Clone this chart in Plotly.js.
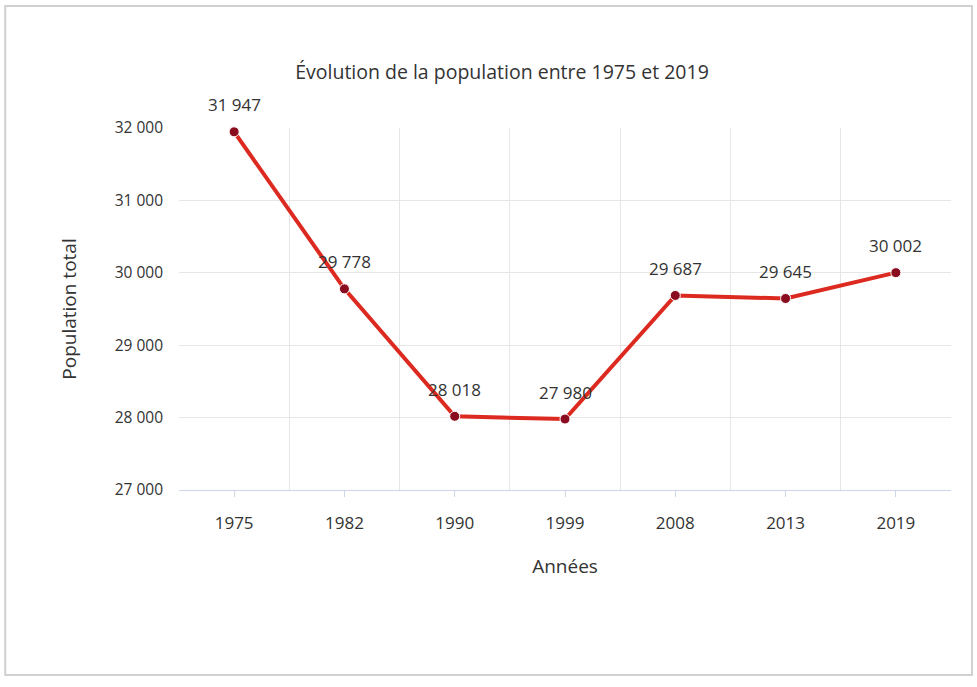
<!DOCTYPE html>
<html>
<head>
<meta charset="utf-8">
<script src="https://cdn.plot.ly/plotly-3.0.1.min.js"></script>
<style>
html, body { margin: 0; padding: 0; background: #ffffff; }
#chart { width: 977px; height: 687px; }
</style>
</head>
<body>
<div id="chart"></div>
<script>
const years = ["1975", "1982", "1990", "1999", "2008", "2013", "2019"];
const population = [31947, 29778, 28018, 27980, 29687, 29645, 30002];
const yTicks = [27000, 28000, 29000, 30000, 31000, 32000];

const chartTitle = "Évolution de la population entre 1975 et 2019";
const xTitle = "Années";
const yTitle = "Population total";

function fmt(v) {
  return String(v).replace(/\B(?=(\d{3})+(?!\d))/g, " ");
}

const idx = years.map((_, i) => i);
const FONT = "Open Sans, sans-serif";

const trace = {
  type: "scatter",
  mode: "lines+markers",
  x: idx,
  y: population,
  line: { color: "#dc2a20", width: 4 },
  marker: { color: "#8a0d1f", size: 10, line: { color: "#ffffff", width: 1 } },
  hoverinfo: "skip",
  cliponaxis: false
};

const annotations = population.map((v, i) => ({
  x: idx[i], y: v, xref: "x", yref: "y",
  text: fmt(v), showarrow: false, yshift: 27,
  font: { family: FONT, size: 17, color: "#333333" }
}));

const layout = {
  width: 977, height: 687,
  paper_bgcolor: "#ffffff", plot_bgcolor: "#ffffff",
  separators: ", ",
  margin: { l: 179, r: 26, t: 128, b: 197 },
  showlegend: false,
  font: { family: FONT, color: "#444444" },
  title: {
    text: chartTitle,
    font: { family: FONT, size: 19.5, color: "#333333" },
    x: 502 / 977, xanchor: "center", xref: "container",
    y: 1 - 72 / 687, yanchor: "middle", yref: "container"
  },
  xaxis: {
    type: "linear",
    range: [-0.5, idx.length - 0.5],
    tickmode: "array",
    tickvals: idx,
    ticktext: years,
    ticks: "outside", ticklen: 6, tickcolor: "#ccd6eb", tickwidth: 1,
    ticklabelstandoff: 12,
    tickfont: { family: FONT, size: 17, color: "#333333" },
    showgrid: false,
    minor: { tick0: -0.5, dtick: 1, showgrid: true, gridcolor: "#e6e6e6", gridwidth: 1, ticks: "" },
    showline: true, linecolor: "#ccd6eb", linewidth: 1,
    zeroline: false, fixedrange: true,
    title: { text: xTitle, standoff: 26, font: { family: FONT, size: 19, color: "#333333" } }
  },
  yaxis: {
    range: [27000, 32000],
    tickmode: "array",
    tickvals: yTicks,
    tickformat: ",d",
    ticks: "",
    ticklabelstandoff: 15,
    tickfont: { family: FONT, size: 15.5, color: "#333333" },
    showgrid: true, gridcolor: "#e6e6e6", gridwidth: 1,
    showline: false, zeroline: false, fixedrange: true,
    title: { text: yTitle, standoff: 33, font: { family: FONT, size: 19, color: "#333333" } }
  },
  annotations: annotations,
  shapes: [{
    type: "rect", xref: "paper", yref: "paper", layer: "below",
    x0: -174 / 773, x1: 794 / 773, y0: -185 / 362, y1: 1 + 122 / 362,
    line: { color: "#d0d0d0", width: 2 }, fillcolor: "rgba(0,0,0,0)"
  }]
};

Plotly.newPlot("chart", [trace], layout, { displayModeBar: false, staticPlot: true });
</script>
</body>
</html>
